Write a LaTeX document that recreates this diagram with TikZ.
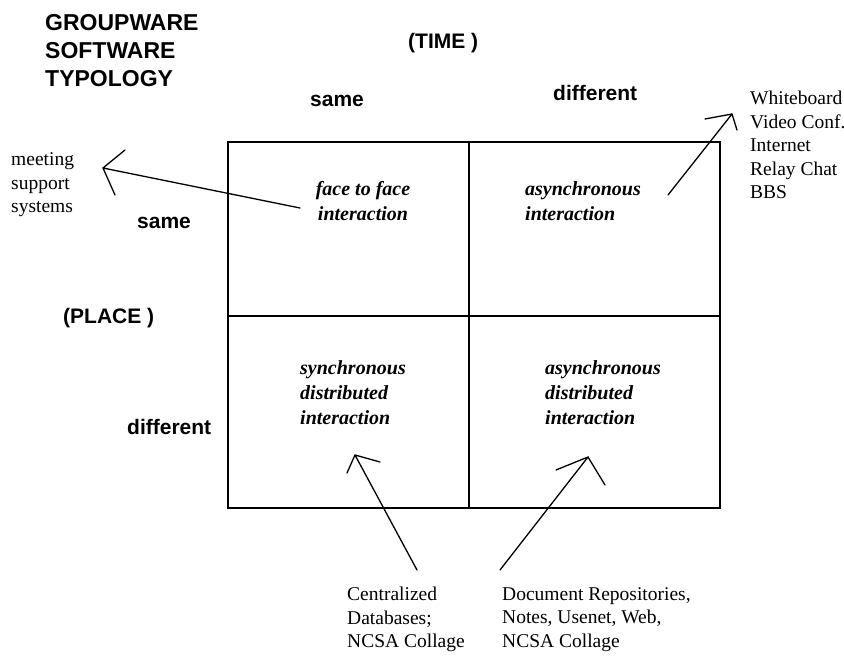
\documentclass[tikz,border=0pt]{standalone}
\usepackage{fontspec}
\setmainfont{Liberation Serif}
\newfontfamily\headfont{Liberation Sans}
\begin{document}
\begin{tikzpicture}[x=1pt,y=-1pt,
  head/.style={font=\headfont\bfseries\fontsize{21}{21}\selectfont, inner sep=0pt},
  title/.style={font=\headfont\bfseries\fontsize{23}{28}\selectfont, inner sep=0pt, align=left},
  cell/.style={font=\bfseries\itshape\fontsize{20}{25}\selectfont, inner sep=0pt, align=left},
  lbl/.style={font=\fontsize{19.5}{23.5}\selectfont, inner sep=0pt, align=left},
  grid/.style={line width=1.6pt},
  hand/.style={line width=1.3pt, line cap=round}]
\useasboundingbox (0,0) rectangle (844,658);
% grid
\coordinate (TL) at (228,142);
\coordinate (TR) at (720,142);
\coordinate (BL) at (228,508);
\coordinate (BR) at (720,508);
\coordinate (TM) at (469,142);
\coordinate (BM) at (469,508);
\coordinate (LM) at (228,316);
\coordinate (RM) at (720,316);
\draw[grid] (TL) rectangle (BR);
\draw[grid] (TM) -- (BM);
\draw[grid] (LM) -- (RM);
% title
\node[title, anchor=west] (title) at (45,51) {GROUPWARE\\SOFTWARE\\TYPOLOGY};
\node[head, anchor=west] (time) at (408,43) {(TIME )};
\node[head, anchor=west] (tsame) at (310,101) {same};
\node[head, anchor=west] (tdiff) at (553,93) {different};
\node[head, anchor=west] (psame) at (137,223) {same};
\node[head, anchor=west] (place) at (63,318) {(PLACE )};
\node[head, anchor=west] (pdiff) at (127,427) {different};
% cells
\node[cell, align=center] (ftf) at (363,201) {face to face\\interaction};
\node[cell, anchor=west] (async) at (525,201) {asynchronous\\interaction};
\node[cell, anchor=west] (sdi) at (300,393) {synchronous\\distributed\\interaction};
\node[cell, anchor=west] (adi) at (545,393) {asynchronous\\distributed\\interaction};
% labels
\node[lbl, anchor=west] (msys) at (11,185) {meeting\\support\\systems};
\node[lbl, anchor=west] (tools) at (750,145) {Whiteboard\\Video Conf.\\Internet\\Relay Chat\\BBS};
\node[lbl, anchor=north west] (cdb) at (347,587) {Centralized\\Databases;\\NCSA Collage};
\node[lbl, anchor=north west] (docs) at (502,587) {Document Repositories,\\Notes, Usenet, Web,\\NCSA Collage};
% hand-drawn arrows
\coordinate (a1s) at (300,208); \coordinate (a1t) at (103,168);
\coordinate (a1h1) at (125,150); \coordinate (a1h2) at (115,195);
\draw[hand] (a1s) -- (a1t) (a1h1) -- (a1t) -- (a1h2);
\coordinate (a2s) at (668,195); \coordinate (a2t) at (732,114);
\coordinate (a2h1) at (705,119); \coordinate (a2h2) at (737,130);
\draw[hand] (a2s) -- (a2t) (a2h1) -- (a2t) -- (a2h2);
\coordinate (a3s) at (417,570); \coordinate (a3t) at (355,455);
\coordinate (a3h1) at (347,473); \coordinate (a3h2) at (380,462);
\draw[hand] (a3s) -- (a3t) (a3h1) -- (a3t) -- (a3h2);
\coordinate (a4s) at (500,570); \coordinate (a4t) at (588,457);
\coordinate (a4h1) at (556,470); \coordinate (a4h2) at (605,485);
\draw[hand] (a4s) -- (a4t) (a4h1) -- (a4t) -- (a4h2);
\end{tikzpicture}
\end{document}
